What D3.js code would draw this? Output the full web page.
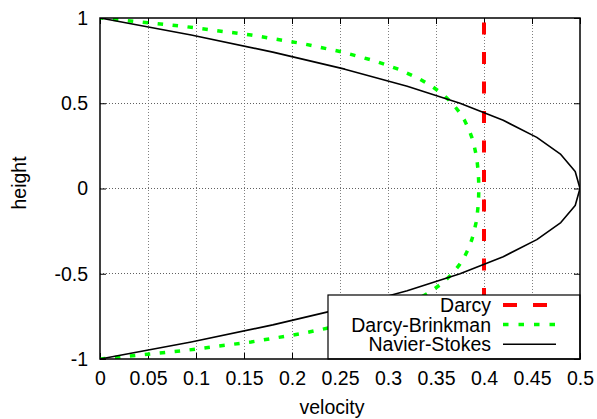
<!DOCTYPE html>
<html>
<head>
<meta charset="utf-8">
<script src="https://cdn.jsdelivr.net/npm/d3@7/dist/d3.min.js"></script>
<style>
  html, body { margin: 0; padding: 0; background: #fff; }
  svg { display: block; font-family: "Liberation Sans", Arial, Helvetica, sans-serif; }
</style>
</head>
<body>
<svg id="chart" width="597" height="419"></svg>
<script>
// Velocity profiles across the channel height
const xTicks = [0, 0.05, 0.1, 0.15, 0.2, 0.25, 0.3, 0.35, 0.4, 0.45, 0.5];
const yTicks = [-1, -0.5, 0, 0.5, 1];

// Darcy: uniform plug flow
const darcyHeight = [-1, 1];
const darcyVelocity = [0.4, 0.4];

// Darcy-Brinkman: flat core with thin boundary layers
const brinkmanHeight = [-1, -0.95, -0.9, -0.85, -0.8, -0.75, -0.7, -0.65, -0.6, -0.55, -0.5,
  -0.45, -0.4, -0.35, -0.3, -0.25, -0.2, -0.15, -0.1, -0.05, 0,
  0.05, 0.1, 0.15, 0.2, 0.25, 0.3, 0.35, 0.4, 0.45, 0.5,
  0.55, 0.6, 0.65, 0.7, 0.75, 0.8, 0.85, 0.9, 0.95, 1];
const brinkmanVelocity = [0, 0.0884, 0.1574, 0.2110, 0.2528, 0.2853, 0.3107, 0.3304, 0.3457, 0.3577, 0.3669,
  0.3741, 0.3797, 0.3840, 0.3873, 0.3898, 0.3917, 0.3930, 0.3939, 0.3944, 0.3946,
  0.3944, 0.3939, 0.3930, 0.3917, 0.3898, 0.3873, 0.3840, 0.3797, 0.3741, 0.3669,
  0.3577, 0.3457, 0.3304, 0.3107, 0.2853, 0.2528, 0.2110, 0.1574, 0.0884, 0];

// Navier-Stokes: parabolic Poiseuille profile
const stokesHeight = [-1, -0.9, -0.8, -0.7, -0.6, -0.5, -0.4, -0.3, -0.2, -0.1, 0,
  0.1, 0.2, 0.3, 0.4, 0.5, 0.6, 0.7, 0.8, 0.9, 1];
const stokesVelocity = [0, 0.095, 0.18, 0.255, 0.32, 0.375, 0.42, 0.455, 0.48, 0.495, 0.5,
  0.495, 0.48, 0.455, 0.42, 0.375, 0.32, 0.255, 0.18, 0.095, 0];

const seriesNames = ["Darcy", "Darcy-Brinkman", "Navier-Stokes"];

const FS = 19.5;
const svg = d3.select("#chart");
const margin = { left: 100, right: 17, top: 18, bottom: 60 };
const W = 597, H = 419;
const x = d3.scaleLinear().domain([0, 0.5]).range([margin.left, W - margin.right]);
const y = d3.scaleLinear().domain([-1, 1]).range([H - margin.bottom, margin.top]);
const [x0, x1] = x.range();
const [y0, y1] = y.range();

svg.append("clipPath").attr("id", "plotclip")
  .append("rect").attr("x", x0).attr("y", y1).attr("width", x1 - x0).attr("height", y0 - y1);

// Grid
const grid = svg.append("g");
grid.selectAll("line.gx").data(xTicks.slice(1, -1)).join("line")
  .attr("x1", d => x(d)).attr("x2", d => x(d)).attr("y1", y0).attr("y2", y1)
  .attr("stroke", "#808080").attr("stroke-width", 1).attr("stroke-dasharray", "1,2")
  .attr("shape-rendering", "crispEdges");
grid.selectAll("line.gy").data(yTicks.slice(1, -1)).join("line")
  .attr("x1", x0).attr("x2", x1).attr("y1", d => y(d)).attr("y2", d => y(d))
  .attr("stroke", "#606060").attr("stroke-width", 1).attr("stroke-dasharray", "1,2")
  .attr("shape-rendering", "crispEdges");

// Axes with inward ticks on all four sides
const fmt = d => String(d);
const axB = svg.append("g").attr("transform", `translate(0,${y0})`)
  .call(d3.axisBottom(x).tickValues(xTicks).tickSize(-6).tickFormat(fmt).tickPadding(12.5));
const axT = svg.append("g").attr("transform", `translate(0,${y1})`)
  .call(d3.axisTop(x).tickValues(xTicks).tickSize(-6).tickFormat(""));
const axL = svg.append("g").attr("transform", `translate(${x0},0)`)
  .call(d3.axisLeft(y).tickValues(yTicks).tickSize(-6).tickFormat(fmt).tickPadding(12));
const axR = svg.append("g").attr("transform", `translate(${x1},0)`)
  .call(d3.axisRight(y).tickValues(yTicks).tickSize(-6).tickFormat(""));
[axB, axT, axL, axR].forEach(a => {
  a.select(".domain").remove();
  a.selectAll(".tick line").attr("stroke", "#000").attr("stroke-width", 1);
  a.selectAll("text").attr("font-size", FS).attr("fill", "#000")
    .attr("font-family", '"Liberation Sans", Arial, sans-serif');
});

// Curves
const curves = svg.append("g").attr("clip-path", "url(#plotclip)");
const line = d3.line().x(d => x(d[0])).y(d => y(d[1]));

curves.append("path")
  .datum(darcyHeight.map((h, i) => [darcyVelocity[i], h]))
  .attr("d", line).attr("fill", "none").attr("stroke", "#ff0000")
  .attr("stroke-width", 4).attr("stroke-dasharray", "12,17.5");

curves.append("path")
  .datum(brinkmanHeight.map((h, i) => [brinkmanVelocity[i], h]))
  .attr("d", line).attr("fill", "none").attr("stroke", "#00ff00")
  .attr("stroke-width", 3.5).attr("stroke-dasharray", "5.5,9.5");

curves.append("path")
  .datum(stokesHeight.map((h, i) => [stokesVelocity[i], h]))
  .attr("d", line).attr("fill", "none").attr("stroke", "#000")
  .attr("stroke-width", 1.6).attr("stroke-linejoin", "round");

// Legend (opaque box in the lower right corner)
const lg = svg.append("g");
lg.append("rect").attr("x", 328).attr("y", 295).attr("width", x1 - 328).attr("height", y0 - 295)
  .attr("fill", "#fff").attr("stroke", "#000").attr("stroke-width", 1.2);
const styles = [
  { stroke: "#ff0000", width: 4, dash: "14,16" },
  { stroke: "#00ff00", width: 3.5, dash: "5.5,10" },
  { stroke: "#000", width: 1.6, dash: null }
];
seriesNames.forEach((name, i) => {
  const cy = 305 + i * 19.6;
  lg.append("text").attr("x", 491).attr("y", cy + 7).attr("text-anchor", "end")
    .attr("font-size", FS).attr("fill", "#000").text(name);
  const s = styles[i];
  const l = lg.append("line").attr("x1", 503).attr("x2", 556).attr("y1", cy).attr("y2", cy)
    .attr("stroke", s.stroke).attr("stroke-width", s.width);
  if (s.dash) l.attr("stroke-dasharray", s.dash);
});

// Plot border
svg.append("rect").attr("x", x0).attr("y", y1).attr("width", x1 - x0).attr("height", y0 - y1)
  .attr("fill", "none").attr("stroke", "#000").attr("stroke-width", 1.5);

// Axis titles
svg.append("text").attr("x", 332).attr("y", 414).attr("text-anchor", "middle")
  .attr("font-size", FS).attr("fill", "#000").text("velocity");
svg.append("text").attr("transform", "translate(26,183) rotate(-90)").attr("text-anchor", "middle")
  .attr("font-size", FS).attr("fill", "#000").text("height");
</script>
</body>
</html>
